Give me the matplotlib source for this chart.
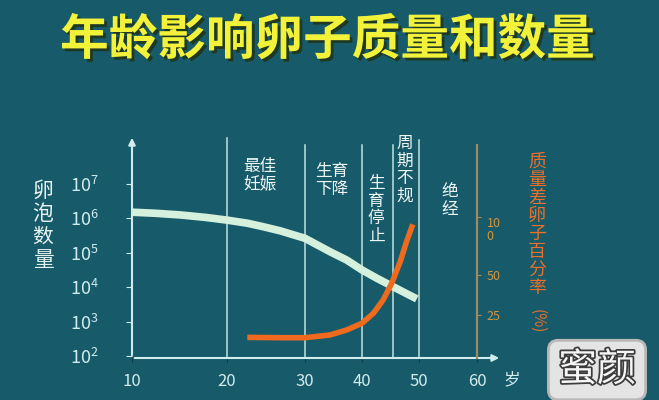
import numpy as np
import matplotlib
matplotlib.use('Agg')
from matplotlib import pyplot as plt
from matplotlib import patheffects as pe
from matplotlib.ticker import FixedLocator, NullLocator, LogFormatterMathtext, FixedFormatter

plt.rcParams['font.family'] = ['Noto Sans CJK SC', 'DejaVu Sans']
plt.rcParams['mathtext.default'] = 'regular'

# data
ages_follicle = [10, 12.4, 15.1, 17.7, 20, 22.6, 24.6, 26.8, 30, 34.4, 37.3, 40, 42.6, 45.5, 49.6]
log_follicles = [6.18, 6.15, 6.10, 6.03, 5.95, 5.86, 5.76, 5.64, 5.42, 5.03, 4.79, 4.50, 4.26, 4.01, 3.66]
follicles = [10 ** v for v in log_follicles]

ages_poor = [22.6, 26.8, 30, 34.4, 37.3, 40, 42.0, 43.7, 45.2, 46.7, 47.8, 48.9]
poor_pct = [12.0, 11.8, 11.8, 13.4, 16.3, 20.2, 26.1, 34.4, 44.8, 61.5, 78.7, 93.7]

stage_bounds = [20, 30, 40, 45.5, 50]
stage_labels = ["最佳\n妊娠", "生育\n下降", "生\n育\n停\n止", "周\n期\n不\n规", "绝\n经"]
stage_label_ages = [24.2, 34.7, 42.5, 47.5, 55.3]

x_ticks = [10, 20, 30, 40, 50, 60]
y_ticks = [1e2, 1e3, 1e4, 1e5, 1e6, 1e7]
pct_ticks = [25, 50, 100]
pct_tick_labels = ["25", "50", "10\n0"]

# the hand drawn axes are not evenly spaced
age_knots = [0, 10, 20, 30, 40, 50, 60, 70]
age_pos = [37, 132, 227, 305, 362, 419, 477, 535]
pct_knots = [0, 25, 50, 100, 200]
pct_pos = [0, 43, 83, 141, 257]

bg = '#175a6a'
light = '#d0ecec'
white_curve = '#d5f0dc'
orange = '#f06a1e'
tan = '#a08a60'

fig = plt.figure(figsize=(6.59, 4.0), dpi=100)
fig.patch.set_facecolor(bg)
ax = fig.add_axes([132 / 659, 1 - 358 / 400, (502 - 132) / 659, (358 - 135) / 400])
ax.set_facecolor(bg)

ax.set_xscale('function', functions=(lambda a: np.interp(a, age_knots, age_pos),
                                     lambda p: np.interp(p, age_pos, age_knots)))
ax.set_yscale('log')
ax.set_xlim(10, 64.3)
ax.set_ylim(10 ** 1.942, 10 ** 8.424)

for s in ax.spines.values():
    s.set_visible(False)
ax.annotate('', xy=(1, 0), xytext=(0, 0), xycoords='axes fraction',
            arrowprops=dict(arrowstyle='-|>', color=light, lw=1.5, mutation_scale=10))
ax.annotate('', xy=(0, 1), xytext=(0, 0), xycoords='axes fraction',
            arrowprops=dict(arrowstyle='-|>', color=light, lw=1.5, mutation_scale=10))

ax.xaxis.set_major_locator(FixedLocator(x_ticks))
ax.xaxis.set_minor_locator(NullLocator())
ax.xaxis.set_major_formatter(FixedFormatter([str(t) for t in x_ticks]))
ax.tick_params(axis='x', colors='#0e3a44', labelcolor=light, labelsize=12, length=3, pad=8)
ax.yaxis.set_major_locator(FixedLocator(y_ticks))
ax.yaxis.set_minor_locator(NullLocator())
ax.yaxis.set_major_formatter(LogFormatterMathtext())
ax.tick_params(axis='y', colors=light, labelsize=13, length=4, pad=20)

for b in stage_bounds:
    top = {20: 138, 50: 140}.get(b, 145)
    ax.axvline(b, ymax=(358 - top) / 223, color='#c0e4e0', lw=1.1, zorder=1)

ax.plot(ages_follicle, follicles, color=white_curve, lw=5.5,
        solid_capstyle='butt', solid_joinstyle='round', zorder=3)

for a, t in zip(stage_label_ages, stage_labels):
    top_px = {"最佳\n妊娠": 158, "生育\n下降": 163, "绝\n经": 183}.get(t, 175)
    if t.startswith("周"):
        top_px = 135
    ax.text(a, (358 - top_px) / 223, t, transform=ax.get_xaxis_transform(),
            ha='center', va='top', color='#eef6f4', fontsize=12, linespacing=1.05)

# right axis for the share of poor quality eggs
ax2 = ax.twinx()
ax2.set_facecolor('none')
ax2.set_yscale('function', functions=(lambda v: np.interp(v, pct_knots, pct_pos),
                                      lambda p: np.interp(p, pct_pos, pct_knots)))
ax2.set_ylim(0, 170.7)
for k in ['left', 'top', 'bottom']:
    ax2.spines[k].set_visible(False)
ax2.spines['right'].set_position(('data', 60))
ax2.spines['right'].set_bounds(0, 162)
ax2.spines['right'].set_color(tan)
ax2.spines['right'].set_linewidth(1.6)
ax2.yaxis.set_major_locator(FixedLocator(pct_ticks))
ax2.yaxis.set_minor_locator(NullLocator())
ax2.yaxis.set_major_formatter(FixedFormatter(pct_tick_labels))
ax2.tick_params(axis='y', colors=tan, labelcolor='#d4943c', labelsize=9, length=3, pad=4)
for lab in ax2.get_yticklabels():
    if '\n' in lab.get_text():
        lab.set_verticalalignment('top')
        lab.set_linespacing(1.0)
ax2.plot(ages_poor, poor_pct, color=orange, lw=4,
         solid_capstyle='butt', solid_joinstyle='round', zorder=4)

# texts around the axes
fig.text(0.497, 1 - 40 / 400, "年龄影响卵子质量和数量", ha='center', va='center',
         fontsize=35, fontweight='bold', color='#f2f23a',
         path_effects=[pe.withSimplePatchShadow(offset=(2, -2), shadow_rgbFace='#203010', alpha=0.8)])
fig.text(43 / 659, 1 - 180 / 400, "\n".join("卵泡数量"), ha='center', va='top',
         fontsize=15, color='#e6f2f0', linespacing=1.05)
fig.text(537 / 659, 1 - 153 / 400, "\n".join("质量差卵子百分率"), ha='center', va='top',
         fontsize=13, color='#e8702a', linespacing=1.0)
fig.text(537 / 659, 1 - 321 / 400, "(%)", ha='center', va='center', rotation=270,
         fontsize=11, color='#e8702a')
fig.text(512 / 659, 1 - 380 / 400, "岁", ha='center', va='center', fontsize=12, color=light)

# watermark
fig.text(597 / 659, 1 - 370 / 400, "蜜颜", ha='center', va='center', fontsize=28,
         color='#f6f6f6',
         bbox=dict(boxstyle='round,pad=0.25', fc='#e4e4e4', ec='#b8b8b8', lw=2),
         path_effects=[pe.withStroke(linewidth=2.5, foreground='#3c3c3c')])

fig.savefig('out.png', dpi=100, facecolor=bg)
